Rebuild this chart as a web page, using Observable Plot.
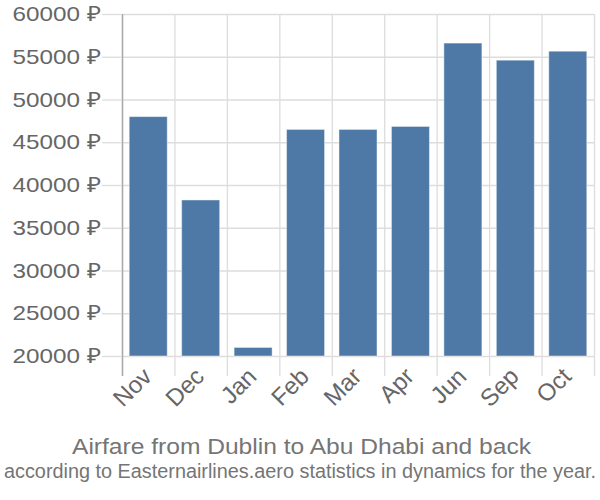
<!DOCTYPE html>
<html>
<head>
<meta charset="utf-8">
<script src="https://cdn.jsdelivr.net/npm/d3@7"></script>
<script src="https://cdn.jsdelivr.net/npm/@observablehq/plot@0.6"></script>
<style>
  body { margin: 0; background: #fff; font-family: "Liberation Sans", Arial, sans-serif; }
  svg { display: block; }
</style>
</head>
<body>
<div id="chart"></div>
<div id="titles"></div>
<script>
const months = ["Nov", "Dec", "Jan", "Feb", "Mar", "Apr", "Jun", "Sep", "Oct"];
const prices = [48000, 38250, 21000, 46500, 46500, 46850, 56600, 54600, 55650];
const yTicks = [20000, 25000, 30000, 35000, 40000, 45000, 50000, 55000, 60000];
const titleText = "Airfare from Dublin to Abu Dhabi and back";
const subtitleText = "according to Easternairlines.aero statistics in dynamics for the year.";

const data = months.map((m, i) => ({month: m, price: prices[i]}));

const W = 600, H = 425, ML = 122, MR = 6, MT = 14, MB = 69;
const step = (W - ML - MR) / months.length;

const plot = Plot.plot({
  width: W,
  height: H,
  marginLeft: ML,
  marginRight: MR,
  marginTop: MT,
  marginBottom: MB,
  style: {fontFamily: "'Liberation Sans', Arial, sans-serif", fontSize: "21px", background: "#fff"},
  x: {type: "band", domain: months, paddingInner: 0.275, paddingOuter: 0.1375, round: false, label: null},
  y: {domain: [20000, 60000], label: null},
  marks: [
    Plot.gridY(yTicks, {stroke: "#dddddd", strokeOpacity: 1, strokeWidth: 1.3}),
    Plot.ruleX(months, {x: d => d, dx: -step / 2, stroke: "#dddddd", strokeWidth: 1.3, insetBottom: -20}),
    Plot.ruleX([months[months.length - 1]], {x: d => d, dx: step / 2, stroke: "#dddddd", strokeWidth: 1.3, insetBottom: -20}),
    Plot.ruleX([months[0]], {x: d => d, dx: -step / 2, stroke: "#aaaaaa", strokeWidth: 1.5, insetBottom: -20}),
    Plot.barY(data, {x: "month", y1: 20000, y2: "price", fill: "#4e79a7", stroke: "#ffffff", strokeOpacity: 0.45, strokeWidth: 1}),
    Plot.axisY(yTicks, {tickSize: 20, tickPadding: 2, stroke: "#dddddd", strokeWidth: 1.3, fill: "#666666", fontSize: 21, tickFormat: d => d + " ₽", label: null}),
    Plot.axisX({tickSize: 0, tickRotate: -45, tickPadding: 16, fill: "#666666", fontSize: 24, dx: -1, label: null})
  ]
});
document.getElementById("chart").appendChild(plot);

// stretch y tick labels to match the reference's wide lettering
d3.select(plot).selectAll('g[aria-label="y-axis tick label"] text')
  .attr("textLength", 88).attr("lengthAdjust", "spacingAndGlyphs");

// title and subtitle below the chart
const t = d3.create("svg").attr("width", W).attr("height", 500 - H)
  .style("font-family", "'Liberation Sans', Arial, sans-serif");
t.append("text").attr("x", 301.5).attr("y", 29).attr("text-anchor", "middle")
  .attr("font-size", 22).attr("fill", "#757575")
  .attr("textLength", 459).attr("lengthAdjust", "spacingAndGlyphs").text(titleText);
t.append("text").attr("x", 300).attr("y", 53).attr("text-anchor", "middle")
  .attr("font-size", 20).attr("fill", "#757575")
  .attr("textLength", 592).attr("lengthAdjust", "spacingAndGlyphs").text(subtitleText);
document.getElementById("titles").appendChild(t.node());
</script>
</body>
</html>
